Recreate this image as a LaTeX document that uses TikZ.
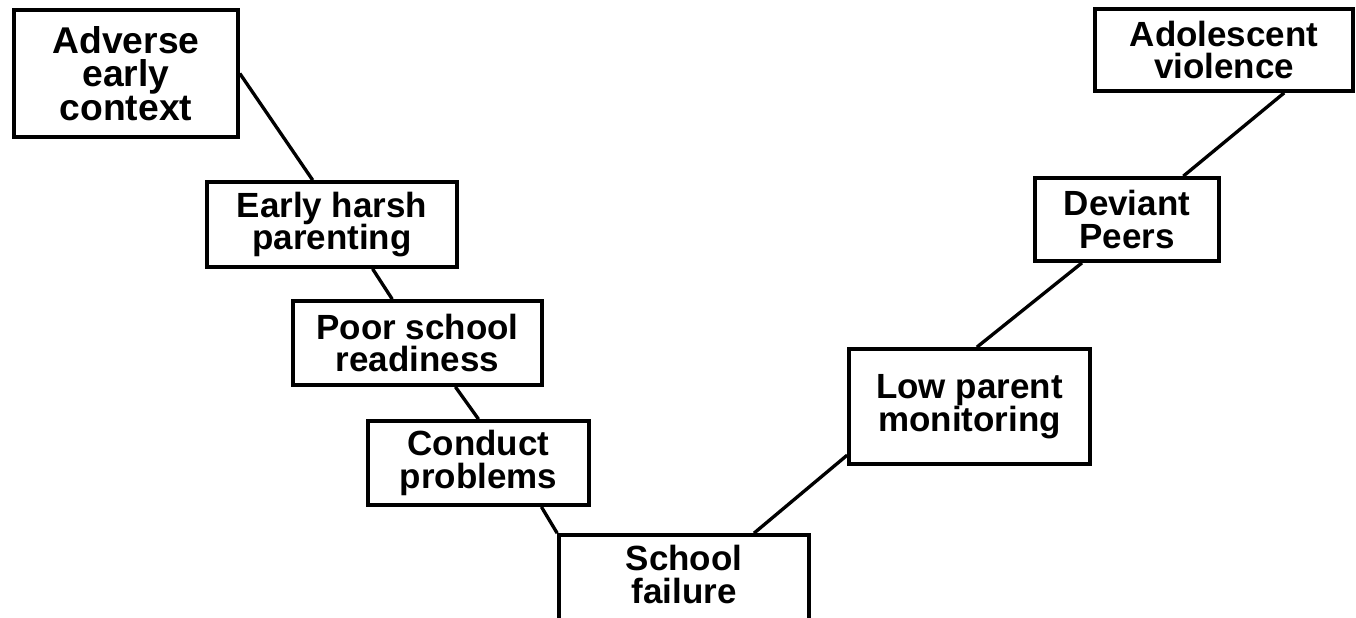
\documentclass[tikz,border=0pt]{standalone}
\usepackage{fontspec}
\setmainfont{Liberation Sans}
\usetikzlibrary{calc}
\tikzset{
  stage/.style={draw=black,line width=2.1pt,fill=white,inner sep=0pt,
    align=center,font=\bfseries\fontsize{19.9}{18.6}\selectfont},
  link/.style={line width=1.9pt,black}
}

\begin{document}
\begin{tikzpicture}

\useasboundingbox (0,0) rectangle (27.12,-12.34);

% left branch, going down
\node[
  stage,
  minimum width=4.48cm,
  minimum height=2.54cm,
  font=\bfseries\fontsize{21.2}{19}\selectfont
] (adverse) at (2.52,-1.47) {Adverse\\early\\context};

\node[
  stage,
  minimum width=5.00cm,
  minimum height=1.70cm
] (harsh) at (6.64,-4.49) {Early harsh\\parenting};

\node[
  stage,
  minimum width=4.98cm,
  minimum height=1.68cm
] (ready) at (8.35,-6.86) {Poor school\\readiness};

\node[
  stage,
  minimum width=4.42cm,
  minimum height=1.68cm
] (conduct) at (9.57,-9.26) {Conduct\\problems};

% runs past the lower edge
\node[
  stage,
  minimum width=5.00cm,
  minimum height=2.00cm,
  text depth=0.42cm
] (failure) at (13.68,-11.70) {School\\failure};

% right branch, going up
\node[
  stage,
  minimum width=4.82cm,
  minimum height=2.30cm
] (monitor) at (19.39,-8.13) {Low parent\\monitoring};

\node[
  stage,
  minimum width=3.68cm,
  minimum height=1.66cm
] (peers) at (22.54,-4.39) {Deviant\\Peers};

\node[
  stage,
  minimum width=5.16cm,
  minimum height=1.64cm
] (violence) at (24.48,-1.00) {Adolescent\\violence};

\draw[link] (adverse.east) -- ($(harsh.north west)!0.424!(harsh.north east)$);
\draw[link] ($(harsh.south west)!0.66!(harsh.south east)$) -- ($(ready.north west)!0.40!(ready.north east)$);
\draw[link] ($(ready.south west)!0.65!(ready.south east)$) -- (conduct.north);
\draw[link] ($(conduct.south west)!0.78!(conduct.south east)$) -- (failure.north west);
\draw[link] ($(failure.north west)!0.776!(failure.north east)$) -- ($(monitor.north west)!0.91!(monitor.south west)$);
\draw[link] ($(monitor.north west)!0.53!(monitor.north east)$) -- ($(peers.south west)!0.26!(peers.south east)$);
\draw[link] ($(peers.north west)!0.80!(peers.north east)$) -- ($(violence.south west)!0.73!(violence.south east)$);

\end{tikzpicture}
\end{document}
